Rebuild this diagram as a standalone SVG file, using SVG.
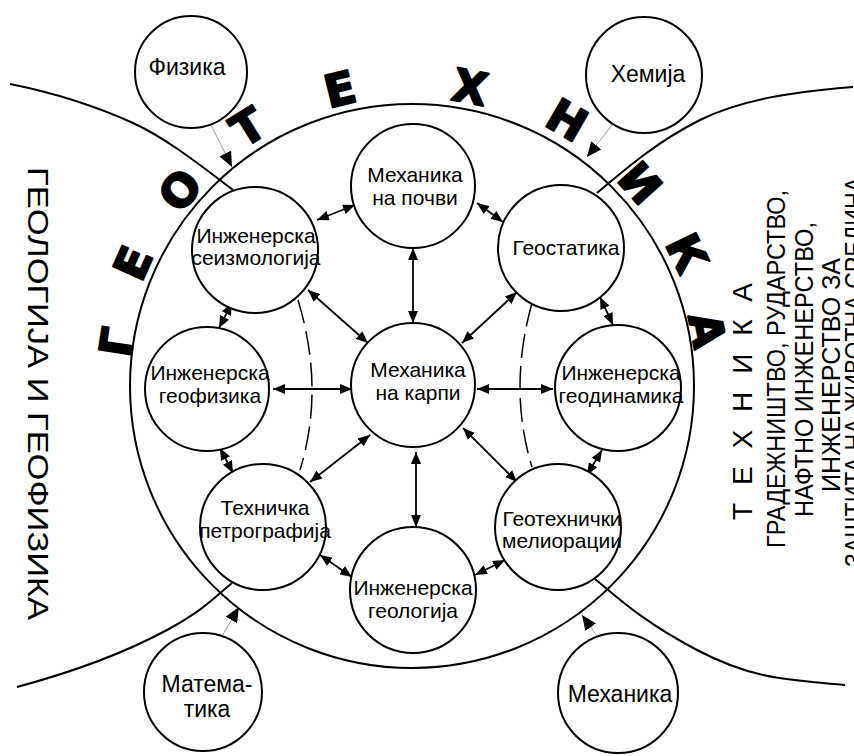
<svg xmlns="http://www.w3.org/2000/svg" width="854" height="756" viewBox="0 0 854 756">
<style>
.node circle{fill:#fff;stroke:#000;stroke-width:2}
.lbl{font-family:"Liberation Sans",Arial,sans-serif;font-size:21px;text-anchor:middle;fill:#000}
.olbl{font-family:"Liberation Sans",Arial,sans-serif;font-size:23px;text-anchor:middle;fill:#000}
.conn line{stroke:#000;stroke-width:1.8;marker-start:url(#ah);marker-end:url(#ah)}
.outer line{stroke:#999;stroke-width:1;marker-end:url(#ah2)}
.curve{fill:none;stroke:#000;stroke-width:2}
.dash{fill:none;stroke:#000;stroke-width:1.5;stroke-dasharray:24 8}
.big{font-family:"DejaVu Sans",sans-serif;font-weight:bold;font-size:45px;text-anchor:middle;fill:#000;stroke:#000;stroke-width:2;stroke-linejoin:round}
.side{font-family:"Liberation Sans",Arial,sans-serif;text-anchor:middle;fill:#000}
</style>
<defs>
<marker id="ah" viewBox="0 0 12 10" refX="12" refY="5" markerWidth="12" markerHeight="10" orient="auto-start-reverse" markerUnits="userSpaceOnUse"><path d="M0,0 L12,5 L0,10 z" fill="#000"/></marker>
<marker id="ah2" viewBox="0 0 15 13" refX="15" refY="6.5" markerWidth="15" markerHeight="13" orient="auto" markerUnits="userSpaceOnUse"><path d="M0,0 L15,6.5 L0,13 z" fill="#000"/></marker>
</defs>
<rect width="854" height="756" fill="#fff"/>

<g id="background">
<circle cx="412" cy="386" r="282" class="curve"/>
<path class="curve" d="M10,84 C60,94 100,108 133,123 S200,165 233,190"/>
<path class="curve" d="M17,687 C80,670 130,650 167,630 S215,597 232,583"/>
<path class="curve" d="M597,193 C630,165 660,140 700,120 S790,92 853,87"/>
<path class="curve" d="M595,579 C615,595 640,620 697,650 S790,680 845,685"/>
<path class="dash" d="M298,300 Q325,389 300,470"/>
<path class="dash" d="M532,303 Q508,389 532,467"/>
</g>

<g id="big-letters">
<text class="big" transform="translate(117,342) rotate(-81.5)" y="16">Г</text>
<text class="big" transform="translate(133,263) rotate(-66)" y="16">Е</text>
<text class="big" transform="translate(180,190) rotate(-50)" y="16">О</text>
<text class="big" transform="translate(248,127) rotate(-32)" y="16">Т</text>
<text class="big" transform="translate(340,89) rotate(-13.6)" y="16">Е</text>
<text class="big" transform="translate(470,87) rotate(11)" y="16">Х</text>
<text class="big" transform="translate(567,120) rotate(30)" y="16">Н</text>
<text class="big" transform="translate(640,183) rotate(48)" y="16">И</text>
<text class="big" transform="translate(687,253) rotate(64)" y="16">К</text>
<text class="big" transform="translate(707,330) rotate(79)" y="16">А</text>
</g>

<g id="side-texts">
<text class="side" font-size="30" transform="translate(28,393.5) rotate(90)" textLength="453" lengthAdjust="spacingAndGlyphs">ГЕОЛОГИЈА И ГЕОФИЗИКА</text>
<text class="side" font-size="28" transform="translate(752,401.5) rotate(-90)" textLength="237" lengthAdjust="spacing">Т Е Х Н И К А</text>
<text class="side" font-size="25" transform="translate(785,369) rotate(-90)" textLength="358" lengthAdjust="spacingAndGlyphs">ГРАДЕЖНИШТВО, РУДАРСТВО,</text>
<text class="side" font-size="25" transform="translate(813,369.5) rotate(-90)" textLength="295" lengthAdjust="spacingAndGlyphs">НАФТНО ИНЖЕНЕРСТВО,</text>
<text class="side" font-size="25" transform="translate(840,375) rotate(-90)" textLength="234" lengthAdjust="spacingAndGlyphs">ИНЖЕНЕРСТВО ЗА</text>
<text class="side" font-size="25" transform="translate(863,372) rotate(-90)" textLength="390" lengthAdjust="spacingAndGlyphs">ЗАШТИТА НА ЖИВОТНА СРЕДИНА</text>
</g>

<g id="connectors">
<g class="conn">
<line x1="413" y1="248" x2="413" y2="323"/>
<line x1="308" y1="290" x2="368" y2="343"/>
<line x1="517" y1="292" x2="462" y2="343"/>
<line x1="273" y1="389" x2="352" y2="389"/>
<line x1="477" y1="389" x2="553" y2="389"/>
<line x1="310" y1="482" x2="370" y2="435"/>
<line x1="463" y1="428" x2="517" y2="482"/>
<line x1="416" y1="452" x2="416" y2="527"/>
<line x1="355" y1="205" x2="317" y2="220"/>
<line x1="477" y1="203" x2="503" y2="222"/>
<line x1="232" y1="303" x2="219" y2="328"/>
<line x1="600" y1="297" x2="613" y2="325"/>
<line x1="220" y1="448" x2="233" y2="473"/>
<line x1="602" y1="450" x2="587" y2="475"/>
<line x1="320" y1="555" x2="352" y2="577"/>
<line x1="505" y1="560" x2="475" y2="575"/>
</g>
<g class="outer">
<line x1="210" y1="123" x2="232" y2="167"/>
<line x1="612" y1="125" x2="587" y2="157"/>
<line x1="218" y1="643" x2="239" y2="607"/>
<line x1="602" y1="643" x2="582" y2="615"/>
</g>
</g>

<g id="n-pochvi" class="node"><circle cx="413" cy="186" r="62"/><text class="lbl" x="415" y="182">Механика</text><text class="lbl" x="415" y="205">на почви</text></g>
<g id="n-seizmologija" class="node"><circle cx="255" cy="250" r="63"/><text class="lbl" x="256" y="243">Инженерска</text><text class="lbl" x="256" y="265">сеизмологија</text></g>
<g id="n-geostatika" class="node"><circle cx="561" cy="248" r="63"/><text class="lbl" x="566" y="255">Геостатика</text></g>
<g id="n-geofizika" class="node"><circle cx="207" cy="389" r="62"/><text class="lbl" x="210" y="380">Инженерска</text><text class="lbl" x="210" y="403">геофизика</text></g>
<g id="n-karpi" class="node"><circle cx="413" cy="385" r="62"/><text class="lbl" x="418" y="377">Механика</text><text class="lbl" x="418" y="400">на карпи</text></g>
<g id="n-geodinamika" class="node"><circle cx="618" cy="388" r="63"/><text class="lbl" x="621" y="380">Инженерска</text><text class="lbl" x="621" y="403">геодинамика</text></g>
<g id="n-petrografija" class="node"><circle cx="263" cy="527" r="63"/><text class="lbl" x="265" y="515">Техничка</text><text class="lbl" x="265" y="538">петрографија</text></g>
<g id="n-melioracii" class="node"><circle cx="558" cy="527" r="63"/><text class="lbl" x="562" y="526">Геотехнички</text><text class="lbl" x="562" y="548">мелиорации</text></g>
<g id="n-geologija" class="node"><circle cx="413" cy="590" r="63"/><text class="lbl" x="413" y="595">Инженерска</text><text class="lbl" x="413" y="618">геологија</text></g>
<g id="n-fizika" class="node"><circle cx="191" cy="72" r="56"/><text class="olbl" x="187" y="75">Физика</text></g>
<g id="n-hemija" class="node"><circle cx="644" cy="75" r="58"/><text class="olbl" x="648" y="82">Хемија</text></g>
<g id="n-matematika" class="node"><circle cx="203" cy="692" r="59"/><text class="olbl" x="207" y="692">Матема-</text><text class="olbl" x="207" y="717">тика</text></g>
<g id="n-mehanika" class="node"><circle cx="618" cy="693" r="60"/><text class="olbl" x="620" y="702">Механика</text></g>
</svg>
